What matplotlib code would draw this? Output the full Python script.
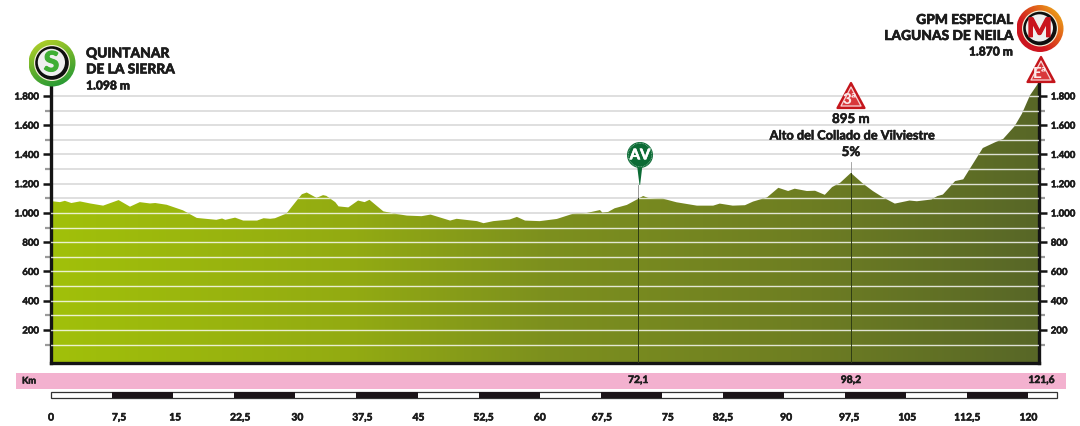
import numpy as np
import matplotlib
matplotlib.use('Agg')
import matplotlib.pyplot as plt
import matplotlib.patheffects as pe
from matplotlib.colors import LinearSegmentedColormap
from matplotlib.patches import Circle, Polygon, Rectangle

W, H = 1080, 427

# profile
km = [0, 0.3, 1.1, 1.7, 2.5, 3.56, 4.8, 6.4, 8.3, 9.7, 10.9, 12.15, 12.8, 14.2, 16.2, 17.9, 20.3, 21, 21.4, 22.6,
      23.6, 25.3, 26.1, 26.9, 27.5, 28.9, 30.2, 30.8, 31.4, 32.6, 33.4, 33.8, 34.9, 35.3, 36.5, 37.7, 38.5, 39.1,
      40.8, 42.4, 43.7, 45.5, 46.6, 49, 49.8, 52.3, 53.1, 54.3, 56.3, 57.2, 58.2, 60, 62.1, 64, 65.8, 67.4,
      67.7, 68.4, 69.2, 70.7, 72.2, 72.7, 73.3, 75.1, 76.8, 79.3, 81.3, 82.1, 83.7, 85.2, 86.2, 87.9, 89.3,
      90.5, 91.3, 92.8, 93.8, 95, 95.9, 96.9, 98.2, 99.7, 100.9, 102.1, 103.6, 105.4, 106.3, 108.1, 108.8,
      109.5, 111, 112, 114.4, 115.9, 116.9, 118.3, 119.2, 120.2, 121.3]
elev = [1076, 1079, 1074, 1083, 1068, 1079, 1065, 1050, 1088, 1043, 1074, 1065, 1068, 1056, 1018, 966, 953, 962, 953, 968,
        948, 948, 964, 960, 964, 996, 1087, 1128, 1140, 1103, 1122, 1117, 1074, 1045, 1038, 1085, 1074, 1090,
        1011, 993, 982, 978, 989, 948, 960, 944, 930, 944, 955, 973, 948, 944, 959, 993, 1000, 1020,
        1002, 1007, 1032, 1055, 1100, 1116, 1103, 1098, 1073, 1050, 1050, 1064, 1050, 1053, 1078, 1106, 1172,
        1150, 1166, 1150, 1152, 1124, 1177, 1207, 1274, 1200, 1150, 1108, 1064, 1085, 1080, 1092, 1115,
        1126, 1218, 1230, 1444, 1483, 1506, 1593, 1678, 1805, 1895]

y_major = [200, 400, 600, 800, 1000, 1200, 1400, 1600, 1800]
y_major_labels = ['200', '400', '600', '800', '1.000', '1.200', '1.400', '1.600', '1.800']
y_minor = [100, 300, 500, 700, 900, 1100, 1300, 1500, 1700]

sprint_km = 72.1
climb_km = 98.2
pink_km = [72.1, 98.2, 121.6]
pink_labels = ['72,1', '98,2', '121,6']
scale_km = [0, 7.5, 15, 22.5, 30, 37.5, 45, 52.5, 60, 67.5, 75, 82.5, 90, 97.5, 105, 112.5, 120]
scale_labels = ['0', '7,5', '15', '22,5', '30', '37,5', '45', '52,5', '60', '67,5', '75', '82,5', '90',
                '97,5', '105', '112,5', '120']

INK = '#1c1c1c'
plt.rcParams['font.family'] = ['Lato', 'DejaVu Sans']
thick = [pe.withStroke(linewidth=0.4, foreground=INK)]


def ax_box(x0, y0, x1, y1):
    # pixel box (y down) to figure fractions
    return [x0 / W, 1 - y1 / H, (x1 - x0) / W, (y1 - y0) / H]


fig = plt.figure(figsize=(W / 100, H / 100), dpi=100, facecolor='white')

# main profile axes
ax = fig.add_axes(ax_box(51, 80, 1039, 364))
ax.set_xlim(0, 121.3)
ax.set_ylim(-26, 1916)
ax.set_facecolor('none')

for v in sorted(y_major + y_minor):
    ax.axhline(v, color='#d6d6d6', lw=1.1, zorder=1)

# area with a left to right gradient, clipped to the profile
cmap = LinearSegmentedColormap.from_list(
    'prof', [(0, '#a1c00a'), (0.3, '#93ab12'), (0.5, '#7d901e'), (0.75, '#6f7f22'), (1, '#586727')])
grad = np.linspace(0, 1, 400).reshape(1, -1)
im = ax.imshow(grad, extent=(0, 121.3, -26, 1916), aspect='auto', cmap=cmap, zorder=2)
poly = ax.fill_between(km, elev, -26, color='none', lw=0, zorder=2)
clip = poly.get_paths()[0]
im.set_clip_path(clip, ax.transData)
for v in sorted(y_major + y_minor):
    line = ax.axhline(v, color='white', alpha=0.8, lw=1.0, zorder=3)
    line.set_clip_path(clip, ax.transData)

# marker lines: grey over the white, dark inside the area
ax.plot([climb_km, climb_km], [1270, 1350], color='#9a9a9a', lw=0.6, zorder=4)
ax.plot([sprint_km, sprint_km], [1100, 1190], color='#8a8a8a', lw=0.6, zorder=4)
ax.plot([sprint_km, sprint_km], [-26, 1100], color='#2f3d14', lw=0.7, zorder=4)
ax.plot([climb_km, climb_km], [-26, 1270], color='#2f3d14', lw=0.7, zorder=4)

for s in ['left', 'right', 'bottom']:
    ax.spines[s].set_linewidth(2.4)
    ax.spines[s].set_color('#141414')
ax.spines['top'].set_visible(False)
ax.set_xticks([])
ax.set_yticks(y_major)
ax.set_yticklabels(y_major_labels, fontsize=6.9, fontweight='bold', color=INK)
ax.set_yticks(y_minor, minor=True)
ax.tick_params(axis='y', which='major', left=True, right=True, labelleft=True, labelright=True,
               length=6, width=1.8, color='#141414', pad=2.5)
ax.tick_params(axis='y', which='minor', left=True, right=True, length=4.5, width=1.6, color='#9a9a9a')
for lab in ax.get_yticklabels():
    lab.set_path_effects(thick)

# km strip below, same km scale as the profile
s_px = 988 / 121.3
strip = fig.add_axes(ax_box(0, 366, W, H))
strip.set_xlim(-51 / s_px, (W - 51) / s_px)
strip.set_ylim(H, 366)
strip.axis('off')
strip.add_patch(Rectangle((-35 / s_px, 374), 1050 / s_px, 15.5, color='#f3b1cf', lw=0))
strip.text(-22 / s_px, 382, 'Km', fontsize=6.6, fontweight='bold', ha='center', va='center', color=INK,
           path_effects=thick)
for k, t in zip(pink_km, pink_labels):
    strip.text(k, 381.5, t, fontsize=7.4, fontweight='bold', ha='center', va='center', color=INK,
               path_effects=thick)
strip.add_patch(Rectangle((0, 393), 1006 / s_px, 6, fc='white', ec='#333333', lw=0.9))
strip.bar(scale_km[1::2], 6, width=7.5, bottom=393, align='edge', color='#1b1418', lw=0)
# the printed labels sit a few pixels right of their ticks
nudge = [0, 7, 2, 6, 2, 6, 1, 5, 0, 1, 6, 0, 2, 4, 1, 0, 0]
for k, t, n in zip(scale_km, scale_labels, nudge):
    strip.text(k + n / s_px, 419, t, fontsize=7.4, fontweight='bold', ha='center', va='center', color=INK,
               path_effects=thick)

# overlay in pixels for the badges and place names
ov = fig.add_axes([0, 0, 1, 1])
ov.set_xlim(0, W)
ov.set_ylim(H, 0)
ov.axis('off')
ov.set_facecolor('none')


def grad_circle(cx, cy, r, colors, sx, sy):
    # gradient disc, the direction comes from sx, sy
    c = Circle((cx, cy), r, transform=ov.transData, fc='none', lw=0)
    ov.add_patch(c)
    yy, xx = np.mgrid[-1:1:100j, -1:1:100j]
    g = (sx * xx + sy * yy + 1.4) / 2.8
    m = LinearSegmentedColormap.from_list('b', colors)
    i = ov.imshow(g, extent=(cx - r, cx + r, cy + r, cy - r), aspect='auto', cmap=m, vmin=0, vmax=1, zorder=5)
    i.set_clip_path(c)


def badge(cx, cy, ring, sx, sy, letter, letter_color, size):
    grad_circle(cx, cy, 23.5, ring, sx, sy)
    ov.add_patch(Circle((cx, cy), 18, fc='#f4f0d8', lw=0, zorder=6))
    ov.add_patch(Circle((cx, cy), 16.8, fc='#0f0f0f', lw=0, zorder=6))
    ov.add_patch(Circle((cx - 0.6, cy - 0.6), 13.6, fc='#efefef', lw=0, zorder=6))
    ov.text(cx - 0.5, cy + 0.3, letter, fontsize=size, fontweight='black', color=letter_color,
            ha='center', va='center', zorder=7,
            path_effects=[pe.withStroke(linewidth=0.8, foreground=letter_color)])


badge(52, 64, ['#c3d62a', '#63b02c', '#129238'], 0.35, 0.95, 'S', '#3fae34', 20)
badge(1040, 29.5, ['#f0c21a', '#e2651a', '#d01620', '#c8141e'], -0.75, 0.65, 'M', '#c9141e', 19)

txt = dict(fontweight='black', color=INK, va='center', zorder=7, path_effects=thick)
ov.text(86, 54.5, 'QUINTANAR', fontsize=9.9, ha='left', **txt)
ov.text(86, 70.5, 'DE LA SIERRA', fontsize=9.9, ha='left', **txt)
ov.text(86, 87, '1.098 m', fontsize=8.7, ha='left', **txt)
ov.text(1013, 21, 'GPM ESPECIAL', fontsize=9.9, ha='right', **txt)
ov.text(1013, 37, 'LAGUNAS DE NEILA', fontsize=9.9, ha='right', **txt)
ov.text(1013, 53, '1.870 m', fontsize=8.7, ha='right', **txt)

bold = dict(fontweight='bold', color=INK, ha='center', va='center', zorder=7, path_effects=thick)
ov.text(851, 120, '895 m', fontsize=9.6, **bold)
ov.text(852, 136.5, 'Alto del Collado de Vilviestre', fontsize=9.2, **bold)
ov.text(851, 153, '5%', fontsize=9.6, **bold)


def climb(cx, top, label):
    # red triangle with a white inner edge
    ov.add_patch(Polygon([(cx, top), (cx + 13.5, top + 25), (cx - 13.5, top + 25)], closed=True,
                         fc='#cf1f26', ec='#c4161c', lw=1.6, joinstyle='round', zorder=6))
    ov.add_patch(Polygon([(cx, top + 4), (cx + 10, top + 23), (cx - 10, top + 23)], closed=True,
                         fc='#d9383b', ec='#f6d6d6', lw=0.9, joinstyle='round', zorder=6))
    ov.text(cx - 1, top + 15.5, label, fontsize=11, fontweight='black', color='#fbeaea',
            ha='center', va='center', zorder=7)


climb(851, 84, '3ª')
climb(1041, 58, 'Eª')

# sprint pin
ov.add_patch(Polygon([(637, 166), (642.5, 166), (640.1, 186), (639.5, 186)], closed=True,
                     fc='#0c6b35', lw=0, zorder=6))
ov.add_patch(Circle((640, 156), 13, fc='#0c6b35', lw=0, zorder=6))
ov.add_patch(Circle((640, 156), 11.8, fc='none', ec='#8fbfa3', lw=0.6, ls=(0, (1, 1)), zorder=6))
ov.text(640, 156.3, 'AV', fontsize=10.5, fontweight='black', color='white', ha='center', va='center', zorder=7,
        path_effects=[pe.withStroke(linewidth=0.4, foreground='white')])

ov.set_xlim(0, W)
ov.set_ylim(H, 0)

fig.savefig('out.png', dpi=100)
